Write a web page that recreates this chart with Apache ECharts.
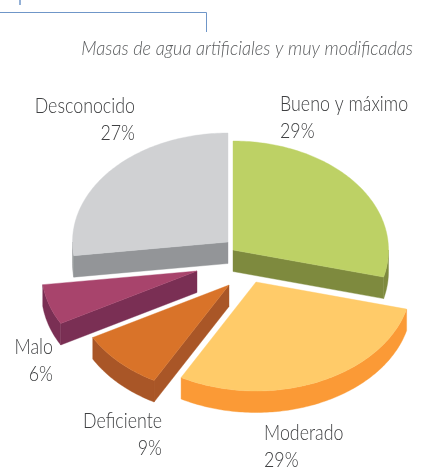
<!DOCTYPE html>
<html><head><meta charset="utf-8">
<style>html,body{margin:0;padding:0;background:#fff}#c{width:425px;height:468px}</style>
<script src="https://cdn.jsdelivr.net/npm/echarts@6/dist/echarts.min.js"></script>
</head><body><div id="c"></div>
<script>
const categories = ['Bueno y máximo','Moderado','Deficiente','Malo','Desconocido'];
const values = [29,29,9,6,27];
const titleText = 'Masas de agua artificiales y muy modificadas';

const topColors = ['#BDD165','#FFCB69','#D97329','#A8446C','#D0D1D3'];
const sideColors = ['#7E8A3E','#FB9A36','#A95627','#7A2F54','#939598'];
// Apex of each exploded slice, in pixels
const apexes = [[233,250],[256,282],[229,285],[197,271],[228,242]];
const RX = 155.5, RY = 109, DEPTH = 21.5;
const labelPos = [
  {x:280,y:91,align:'left'},{x:264,y:420,align:'left'},{x:162,y:408,align:'right'},
  {x:53,y:334,align:'right'},{x:135,y:93,align:'right'}
];

const total = values.reduce((a,b)=>a+b,0);
const starts = []; values.reduce((s,v,i)=>{starts[i]=s;return s+v;},0);

function pt(c,deg,dy){const r=deg*Math.PI/180;return [c[0]+RX*Math.sin(r),c[1]-RY*Math.cos(r)+(dy||0)];}
function arc(c,a,b,dy){const out=[];const n=Math.max(2,Math.ceil(Math.abs(b-a)));for(let i=0;i<=n;i++)out.push(pt(c,a+(b-a)*i/n,dy));return out;}

function renderItem(params,api){
  const i=params.dataIndex, v=api.value(0);
  const a0=starts[i]/total*360, a1=a0+v/total*360, c=apexes[i];
  const kids=[];
  const side=sideColors[i];
  const poly=(points,fill)=>({type:'polygon',shape:{points},style:{fill,stroke:fill,lineWidth:0.4}});
  const faceVisible=(normalDeg)=>-Math.cos(normalDeg*Math.PI/180)>0;
  const radial=(deg)=>{const e=pt(c,deg);return [c,e,[e[0],e[1]+DEPTH],[c[0],c[1]+DEPTH]];};
  if(faceVisible(a0-90)) kids.push(poly(radial(a0),side));
  if(faceVisible(a1+90)) kids.push(poly(radial(a1),side));
  const ra=Math.max(a0,90), rb=Math.min(a1,270);
  if(rb>ra) kids.push(poly(arc(c,ra,rb,0).concat(arc(c,rb,ra,DEPTH)),side));
  kids.push(poly([c].concat(arc(c,a0,a1,0)),topColors[i]));
  return {type:'group',children:kids};
}

const font='Lato';
const graphics=[
  {type:'polyline',shape:{points:[[0,12.5],[206.5,12.5],[206.5,32]]},style:{stroke:'#6F96C8',lineWidth:1,fill:null}},
  {type:'line',shape:{x1:20,y1:0,x2:20,y2:5},style:{stroke:'#6F96C8',lineWidth:1.5}},
  {type:'text',x:413,y:38,scaleX:0.885,style:{text:titleText,align:'right',fill:'#5A5C5E',font:'italic 300 20.5px '+font}}
];
categories.forEach((name,i)=>{
  const p=labelPos[i];
  graphics.push({type:'text',x:p.x,y:p.y,scaleX:0.81,style:{text:name+'\n'+values[i]+'%',align:p.align,fill:'#3F4042',lineHeight:26.5,font:'300 22px '+font}});
});

const chart=echarts.init(document.getElementById('c'),null,{renderer:'canvas'});
chart.setOption({
  animation:false,
  backgroundColor:'#fff',
  graphic:graphics,
  series:[{type:'custom',coordinateSystem:'none',renderItem,data:values.map(v=>[v]),silent:true}]
});
</script></body></html>
